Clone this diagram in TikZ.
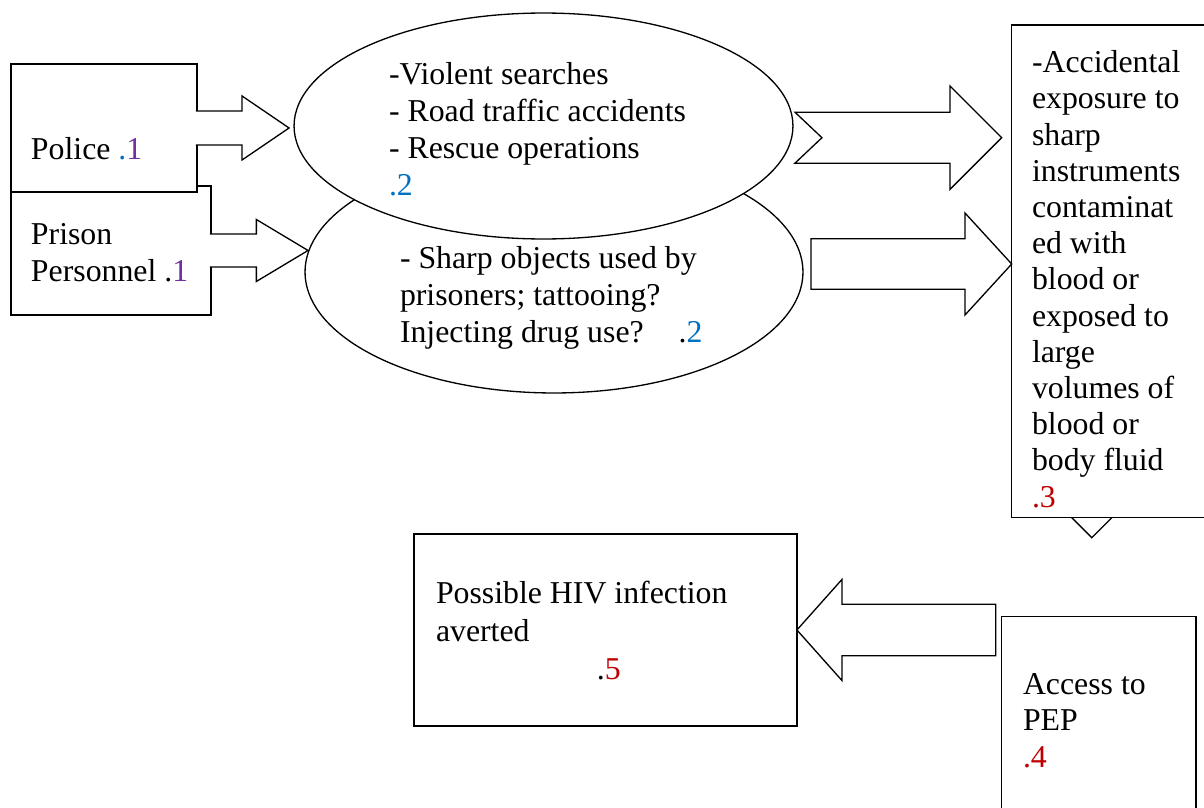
\documentclass[tikz,border=0pt]{standalone}
\usepackage{fontspec}
\setmainfont{Liberation Serif}
\usepackage{xcolor}
\usetikzlibrary{positioning}
\usetikzlibrary{calc}
\usetikzlibrary{shapes.geometric}
\definecolor{numpurple}{HTML}{7030A0}
\definecolor{numblue}{HTML}{0070C0}
\definecolor{numred}{HTML}{C00000}

\begin{document}
\begin{tikzpicture}[x=0.02cm,y=-0.02cm,
  box/.style={draw, fill=white, line width=0.75pt, rectangle, inner sep=0pt, outer sep=0pt, anchor=north west},
  oval/.style={draw, fill=white, line width=0.75pt, ellipse, inner sep=0pt, outer sep=0pt},
  txt/.style={inner sep=0pt, outer sep=0pt, align=left, anchor=base west, font={\fontsize{18.1}{20.9}\selectfont}},
  blockarrow/.style={draw, fill=white, line width=0.75pt, line join=miter},
]
\newcommand\ArrowOutline[5]{($(#1)+(0,-#3)$) -- ($(#2)+({-(#5)},-#3)$) -- ($(#2)+({-(#5)},-#4)$) -- (#2) -- ($(#2)+({-(#5)},#4)$) -- ($(#2)+({-(#5)},#3)$) -- ($(#1)+(0,#3)$)}
\useasboundingbox (0,0) rectangle (1204,808);

\node[box, minimum width=4cm, minimum height=2.58cm] (prison) at (11,186) {};
\node[box, minimum width=3.72cm, minimum height=2.56cm] (police) at (11,64) {};
\node[txt] (policetxt) at ($(police.north west)+(20,95.3)$) {Police \textcolor{numblue}{.}\textcolor{numpurple}{1}};
\node[txt] (prisontxt) at ($(prison.north west)+(20,95)$) {Prison\\Personnel .\textcolor{numpurple}{1}};

\node[oval, minimum width=9.96cm, minimum height=4.84cm] (sharp) at (554,272) {};
\node[oval, minimum width=9.98cm, minimum height=4.52cm] (viol) at (543.5,126) {};
\node[txt] (violtxt) at ($(viol.center)+(-154.5,69)$) {-Violent searches\\- Road traffic accidents\\- Rescue operations\\\textcolor{numblue}{.2}};
\node[txt] (sharptxt) at ($(sharp.center)+(-154,70)$) {- Sharp objects used by\\prisoners; tattooing?\\Injecting drug use?\hspace*{1.1em}.\textcolor{numblue}{2}};

% groups to settings
\coordinate (p1) at ($(police.east)+(-1,0)$);
\coordinate (p2) at ($(police.east -| viol.west)+(-5,0)$);
\draw[blockarrow] \ArrowOutline{p1}{p2}{17}{32}{47};
\coordinate (q1) at ($(prison.east)+(-1,0)$);
\coordinate (q2) at ($(prison.east -| sharp.west)+(3,0)$);
\draw[blockarrow] \ArrowOutline{q1}{q2}{16.5}{31}{51.7};

\node[box, minimum width=7.66cm, minimum height=3.84cm] (hiv) at (414,534) {};
\node[txt, font={\fontsize{18.1}{21.6}\selectfont}] (hivtxt) at ($(hiv.north west)+(22,145.3)$) {Possible HIV infection\\averted\\\hspace*{3.22cm}.\textcolor{numred}{5}};
\node[box, minimum width=3.886cm, minimum height=4.27cm] (pep) at (1001.7,616.7) {};
\node[txt] (peptxt) at ($(pep.north west)+(21.3,151)$) {Access to\\PEP\\\textcolor{numred}{.4}};

\coordinate (dn) at ($(pep.north)+(-7,-79)$);
\draw[blockarrow] (dn) -- ++(45,-45) -- ++(-23,0) -- ++(0,-105) -- ++(-44,0) -- ++(0,105) -- ++(-23,0) -- cycle;

\node[box, minimum width=4.07cm, minimum height=9.854cm] (acc) at (1011.7,25) {};
\node[txt, font={\fontsize{18.1}{20.6}\selectfont}] (acctxt) at ($(acc.north west)+(20.3,482)$) {-Accidental\\exposure to\\sharp\\instruments\\contaminat\\ed with\\blood or\\exposed to\\large\\volumes of\\blood or\\body fluid\\\textcolor{numred}{.3}};

% exposure arrows
\coordinate (r1) at ($(viol.east)+(2,11.7)$);
\coordinate (r2) at ($(r1 -| acc.west)+(-10,0)$);
\draw[blockarrow] \ArrowOutline{r1}{r2}{25.5}{51.7}{51.7} -- ($(r1)+(27,0)$) -- cycle;
\coordinate (r3) at ($(sharp.east)+(8,-8)$);
\coordinate (r4) at (r3 -| acc.west);
\draw[blockarrow] \ArrowOutline{r3}{r4}{25.3}{51}{46.7} -- cycle;

\coordinate (l1) at ($(hiv.east -| pep.west)+(-6,0)$);
\draw[blockarrow] \ArrowOutline{l1}{hiv.east}{25.7}{50.5}{-45} -- cycle;
\end{tikzpicture}
\end{document}
